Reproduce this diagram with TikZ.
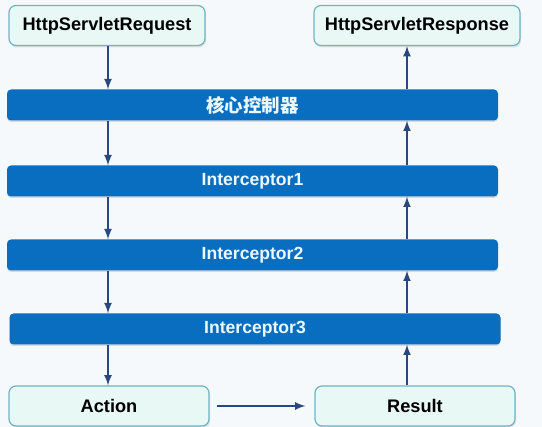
\documentclass[tikz,border=0pt]{standalone}
\usepackage{fontspec}
\setmainfont{Liberation Sans}
\newfontfamily\cjkfont{Noto Sans CJK SC}
\usetikzlibrary{arrows,shapes,backgrounds,shadows}
\definecolor{boxfill}{HTML}{E8F8F4}
\definecolor{boxline}{HTML}{6BB5C6}
\definecolor{barfill}{HTML}{0A6EC0}
\definecolor{bartext}{HTML}{EAF8FF}
\definecolor{arrowcol}{HTML}{2A4880}
\definecolor{bgcol}{HTML}{F5F9FC}
\tikzstyle{arrow}=[-latex,line width=2.5pt,draw=arrowcol]
\tikzstyle{endbox}=[draw=boxline,fill=boxfill,rounded corners=7pt,line width=1.2pt,
minimum height=40pt,font=\bfseries\fontsize{18.2}{21}\selectfont,
drop shadow={opacity=0.2,shadow xshift=1pt,shadow yshift=-2pt}]
\tikzstyle{bar}=[fill=barfill,rounded corners=4pt,minimum width=491pt,
minimum height=31pt,text=bartext,font=\bfseries\fontsize{17.6}{20}\selectfont,
drop shadow={opacity=0.25,shadow xshift=0pt,shadow yshift=-1.5pt}]

\begin{document}
\begin{tikzpicture}[y=1pt, x=1pt]

	\fill[bgcol] (0,0) rectangle (542,427);
	\useasboundingbox (0,0) rectangle (542,427);

	% request / response
	\node[endbox,minimum width=196pt] (req) at (107,401.5) {HttpServletRequest};
	\node[endbox,minimum width=206pt] (resp) at (417,401.5) {HttpServletResponse};

	% chain
	\node[bar] (core) at (252.5,322) {\cjkfont\bfseries\fontsize{18.5}{20}\selectfont 核心控制器};
	\node[bar] (int1) at (252.5,246) {Interceptor1};
	\node[bar] (int2) at (252.5,172) {Interceptor2};
	\node[bar] (int3) at (255,98) {Interceptor3};

	\node[endbox,minimum width=200pt] (action) at (109,21) {Action};
	\node[endbox,minimum width=200pt] (result) at (415,21) {Result};

	\coordinate (lx) at (108,0);
	\coordinate (rx) at (407,0);

	%down
	\draw[arrow] (req.south -| lx) -- (core.north -| lx);
	\draw[arrow] (core.south -| lx) -- (int1.north -| lx);
	\draw[arrow] (int1.south -| lx) -- (int2.north -| lx);
	\draw[arrow] (int2.south -| lx) -- (int3.north -| lx);
	\draw[arrow] (int3.south -| lx) -- (action.north -| lx);

	%up
	\draw[arrow] (result.north -| rx) -- (int3.south -| rx);
	\draw[arrow] (int3.north -| rx) -- (int2.south -| rx);
	\draw[arrow] (int2.north -| rx) -- (int1.south -| rx);
	\draw[arrow] (int1.north -| rx) -- (core.south -| rx);
	\draw[arrow] (core.north -| rx) -- (resp.south -| rx);

	\draw[arrow,shorten <=7pt,shorten >=9pt] (action.east) -- (result.west);
\end{tikzpicture}
\end{document}
